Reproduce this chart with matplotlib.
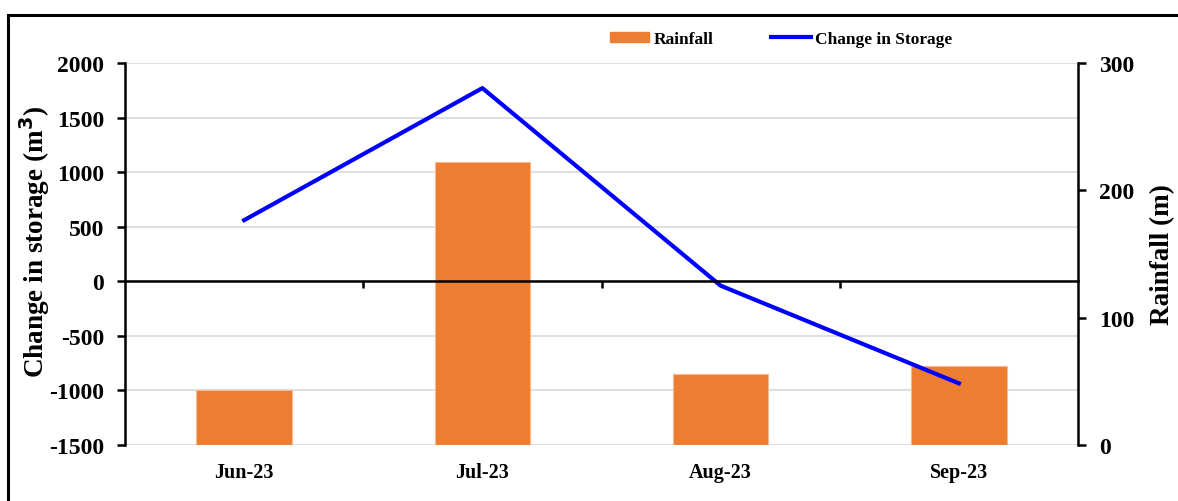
import matplotlib.pyplot as plt
from matplotlib.patches import Rectangle
from matplotlib.lines import Line2D
from matplotlib.ticker import FixedLocator

months = ["Jun-23", "Jul-23", "Aug-23", "Sep-23"]
rainfall = [43, 222, 56, 62]               # m
storage_change = [560, 1770, -40, -935]    # m^3

plt.rcParams["font.family"] = ["Liberation Serif", "DejaVu Serif"]
plt.rcParams["font.weight"] = "bold"
plt.rcParams["axes.unicode_minus"] = False

fig = plt.figure(figsize=(11.78, 5.02), dpi=100)
pos = [125 / 1178, 56 / 502, 953 / 1178, 382 / 502]

# bottom layer: storage axis with the grid
ax = fig.add_axes(pos)
x = list(range(len(months)))
ax.set_xlim(-0.5, len(months) - 0.5)
ax.set_ylim(-1500, 2000)
ax.set_yticks(range(-1500, 2001, 500))
ax.yaxis.grid(True, color="#d9d9d9", linewidth=1.2)
ax.set_axisbelow(True)
for s in ["top", "right", "bottom"]:
    ax.spines[s].set_visible(False)
ax.spines["left"].set_linewidth(1.8)
ax.tick_params(axis="y", direction="out", length=6, width=1.8, labelsize=17, pad=9)
ax.set_xticks(x)
ax.set_xticklabels(months, fontsize=14.5, fontweight="bold")
ax.tick_params(axis="x", which="both", length=0, pad=12)
ax.set_ylabel("Change in storage (m$^\\mathbf{3}$)", fontsize=19.5, fontweight="bold")
ax.yaxis.set_label_coords(-0.077, 0.535)

# middle layer: rainfall bars
ax2 = ax.twinx()
ax2.bar(x, rainfall, width=0.4, color="#ED7D31", edgecolor="#f6b98f", linewidth=0.8, label="Rainfall")
ax2.set_ylim(0, 300)
ax2.set_yticks([0, 100, 200, 300])
for s in ["top", "left", "bottom"]:
    ax2.spines[s].set_visible(False)
ax2.spines["right"].set_linewidth(1.8)
ax2.tick_params(axis="y", direction="out", length=6, width=1.8, labelsize=17, pad=9)
ax2.set_ylabel("Rainfall (m)", fontsize=19.5, fontweight="bold")
ax2.yaxis.set_label_coords(1.076, 0.5)

# top layer: storage line and the zero axis
ax3 = fig.add_axes(pos, sharex=ax, sharey=ax)
ax3.patch.set_visible(False)
ax3.plot(x, storage_change, color="#0000ff", linewidth=3, label="Change in Storage")
for s in ["top", "left", "right"]:
    ax3.spines[s].set_visible(False)
ax3.spines["bottom"].set_position(("data", 0))
ax3.spines["bottom"].set_linewidth(1.8)
ax3.tick_params(axis="y", left=False, labelleft=False)
ax3.tick_params(axis="x", which="major", length=0, labelbottom=False)
ax3.xaxis.set_minor_locator(FixedLocator([0.5, 1.5, 2.5]))
ax3.tick_params(axis="x", which="minor", direction="out", length=5, width=1.8)

handles = [
    Rectangle((0, 0), 1, 1, color="#ED7D31"),
    Line2D([0], [0], color="#0000ff", linewidth=3),
]
fig.legend(handles, ["Rainfall", "Change in Storage"], loc="center",
           bbox_to_anchor=(781 / 1178, 1 - 40 / 502), ncol=2, frameon=False,
           prop={"size": 12.5, "weight": "bold"}, handlelength=2.3,
           handleheight=0.5, handletextpad=0.25, columnspacing=3.3)

# outer frame
fig.patches.append(Rectangle((8 / 1178, -0.2), 1.2, 0.2 + (502 - 16) / 502,
                             transform=fig.transFigure, fill=False,
                             edgecolor="black", linewidth=2.2))

fig.savefig("out.png", dpi=100)
